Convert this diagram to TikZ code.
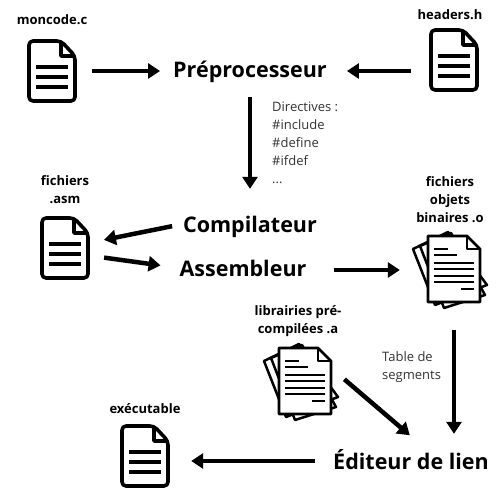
\documentclass[tikz,border=0pt]{standalone}
\usepackage{fontspec}
\setmainfont{Open Sans}
\usetikzlibrary{arrows.meta}
\tikzset{
    etape/.style={font=\bfseries\fontsize{21.5}{26}\selectfont, inner sep=0pt, text height=16pt, text depth=0pt},
    fichier/.style={font=\bfseries\fontsize{13}{18}\selectfont, align=center, inner sep=0pt},
    remarque/.style={font=\fontsize{13}{18}\selectfont, align=left, inner sep=0pt, text=black!80},
    fleche/.style={line width=4.5pt, -{Triangle[length=12pt,width=15pt]}},
    docbox/.style={minimum width=50pt, minimum height=64pt, inner sep=0pt},
    pilebox/.style={minimum width=54pt, minimum height=68pt, inner sep=0pt},
    docicon/.pic={
        \draw[line width=3.6pt, line join=round, fill=white, rounded corners=4pt]
            (-23,-30) -- (9,-30) -- (23,-15) -- (23,30) -- (-23,30) -- cycle;
        \draw[line width=3.6pt, line join=round] (9,-30) -- (9,-15) -- (23,-15);
        \foreach \y in {-4,6,16}
            \draw[line width=4pt] (-16,\y) -- (16,\y);
    },
    pileicon/.pic={
        \draw[line width=2.5pt, line join=round, fill=white]
            (-41,-20) -- (-6,-37) -- (33,16) -- (-19,36) -- cycle;
        \draw[line width=2.5pt, line join=round, fill=white]
            (-34,-23) -- (-3,-36) -- (31,26) -- (-10,39) -- cycle;
        \draw[line width=2.8pt, line join=round, fill=white]
            (-26,-33) -- (13,-33) -- (26,-20) -- (26,33) -- (-26,33) -- cycle;
        \draw[line width=2.8pt, line join=round] (13,-33) -- (13,-20) -- (26,-20);
        \foreach \xa/\xb/\y in {-20/-6/-20, -20/3/-14, -20/20/-6.5, -20/20/0, -20/20/6.5, -20/20/13, 7/20/19.5}
            \draw[line width=2pt] (\xa,\y) -- (\xb,\y);
    }
}
\begin{document}
\begin{tikzpicture}[x=1pt,y=-1pt]
    \useasboundingbox (0,0) rectangle (500,500);

    % etapes
    \node[etape] (prepro) at (250,70) {Préprocesseur};
    \node[etape] (compil) at (250,224) {Compilateur};
    \node[etape] (assemb) at (243,268) {Assembleur};
    \node[etape] (editeur) at (411,461) {Éditeur de lien};

    % fichiers
    \node[docbox] (moncode) at (52,71) {};
    \node[docbox] (headers) at (454,60) {};
    \node[docbox] (asm) at (65,248) {};
    \node[docbox] (exe) at (145,456) {};
    \node[pilebox] (objets) at (454,269) {};
    \node[pilebox] (libs) at (305,381) {};
    \pic at (moncode) {docicon};
    \pic at (headers) {docicon};
    \pic at (asm) {docicon};
    \pic at (exe) {docicon};
    \pic at (objets) {pileicon};
    \pic at (libs) {pileicon};

    % etiquettes
    \node[fichier] (nom1) at (52,20) {moncode.c};
    \node[fichier] (nom2) at (450,15) {headers.h};
    \node[fichier] (nom3) at (65,190) {fichiers\\.asm};
    \node[fichier] (nom4) at (450,199.5) {fichiers\\objets\\binaires .o};
    \node[fichier] (nom5) at (298,321.5) {librairies pré-\\compilées .a};
    \node[fichier] (nom6) at (145,409) {exécutable};
    \node[remarque, anchor=north west] (directives) at (272,101.5) {Directives :\\\#include\\\#define\\\#ifdef\\...};
    \node[remarque, anchor=north west] (table) at (382,351.5) {Table de\\segments};

    % fleches
    \draw[fleche, shorten <=15pt, shorten >=13pt] (moncode.east) -- (moncode.east -| prepro.west);
    \draw[fleche, shorten <=18pt, shorten >=20pt] (headers.west |- moncode.east) -- (prepro.east |- moncode.east);
    \draw[fleche, line width=3.5pt, shorten <=19pt, shorten >=27pt] (prepro.south) -- (prepro.south |- compil.north);
    \draw[fleche, shorten <=11pt, shorten >=14pt] (compil.west) -- (asm.12);
    \draw[fleche, shorten <=14pt, shorten >=19pt] (asm.-17) -- (assemb.west);
    \draw[fleche, shorten <=27pt, shorten >=27pt] ([yshift=-2pt]assemb.east) -- ([yshift=-2pt]assemb.east -| objets.west);
    \draw[fleche, shorten <=27pt, shorten >=19pt] (objets.south) -- (objets.south |- editeur.north);
    \draw[fleche, shorten <=16pt, shorten >=27pt] (libs.24) -- (editeur.23);
    \draw[fleche, shorten <=18pt, shorten >=21pt] (editeur.west) -- (editeur.west -| exe.east);
\end{tikzpicture}
\end{document}
